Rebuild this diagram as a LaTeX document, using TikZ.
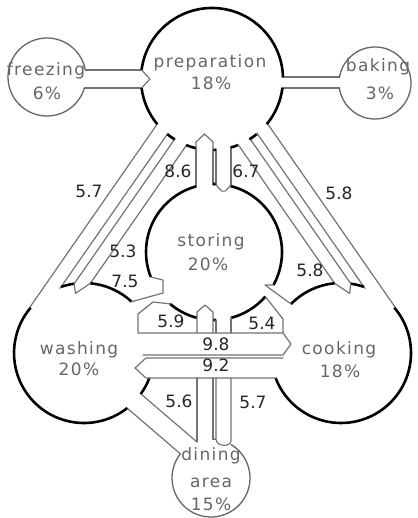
\documentclass[tikz,border=0pt]{standalone}
\usepackage{fontspec}
\setmainfont{DejaVu Sans}
\newfontfamily\namefont[LetterSpace=8]{DejaVu Sans}
\newcommand\myarc[5]{\draw[#1] (#2) ++(#3:#5) arc[start angle=#3, end angle=#4, radius=#5];}
\begin{document}
\begin{tikzpicture}[x=1pt,y=-1pt,
  bandl/.style={draw=black!55,line width=1.2pt,line join=round,line cap=round},
  thickc/.style={draw=black,line width=2.6pt},
  thinc/.style={draw=black!60,line width=1.3pt},
  namelab/.style={font=\namefont\fontsize{17}{20}\selectfont, text=black!60, inner sep=0pt, anchor=base},
  numlab/.style={font=\fontsize{17}{20}\selectfont, text=black!85, inner sep=0pt, anchor=base}]
\useasboundingbox (0,0) rectangle (417,518);
\fill[white] (0,0) rectangle (417,518);
% centres
\coordinate (P) at (212,79);
\coordinate (S) at (214,252);
\coordinate (W) at (84,353);
\coordinate (C) at (341,353);
\coordinate (D) at (211,478);
\coordinate (F) at (47,77);
\coordinate (K) at (375,83);
% ---- step 1: band sides, reaching into the bubbles
\draw[bandl] (80,70) -- (146,70);
\draw[bandl] (80,88) -- (146,88);
\draw[bandl] (278,77) -- (344,77);
\draw[bandl] (278,88) -- (344,88);
\draw[bandl] (196,146) -- (196,192);
\draw[bandl] (213,146) -- (213,190);
\draw[bandl] (216,145) -- (216,188);
\draw[bandl] (231,143) -- (231,189);
\draw[bandl] (159.6,120.6) -- (30,307);
\draw[bandl] (170,130.3) -- (58.6,290.4);
\draw[bandl] (178.5,133.7) -- (74.2,283.7);
\draw[bandl] (190.9,138.8) -- (90.4,283.3);
\draw[bandl] (265.4,120.6) -- (395,307);
\draw[bandl] (255,130.3) -- (366.4,290.4);
\draw[bandl] (246.5,133.7) -- (350.8,283.7);
\draw[bandl] (234.1,138.8) -- (334.6,283.3);
\draw[bandl] (137,390.6) -- (197,442);
\draw[bandl] (123.2,404.7) -- (183,456.1);
% ---- step 2: bubble interiors
\fill[white] (P) circle[radius=69.7];
\fill[white] (S) circle[radius=66.7];
\fill[white] (W) circle[radius=68.7];
\fill[white] (C) circle[radius=68.7];
\fill[white] (D) circle[radius=38.35];
\fill[white] (F) circle[radius=38.35];
\fill[white] (K) circle[radius=35.35];
% ---- step 3: bubble outlines
\myarc{thickc}{P}{7.3}{39.5}{71}
\myarc{thickc}{P}{51.1}{58.2}{71}
\myarc{thickc}{P}{68.8}{74.5}{71}
\myarc{thickc}{P}{86.8}{89.2}{71}
\myarc{thickc}{P}{103}{111.2}{71}
\myarc{thickc}{P}{121.8}{128.9}{71}
\myarc{thickc}{P}{140.5}{172.7}{71}
\myarc{thickc}{P}{187.3}{358.4}{71}
\myarc{thickc}{S}{284.5}{389}{68}
\myarc{thickc}{S}{41}{75.5}{68}
\myarc{thickc}{S}{88.3}{90.8}{68}
\myarc{thickc}{S}{104.5}{130.2}{68}
\myarc{thickc}{S}{158.4}{254.7}{68}
\myarc{thickc}{S}{269.2}{271.7}{68}
\myarc{thickc}{W}{52}{220.4}{70}
\myarc{thickc}{W}{250.9}{262}{70}
\myarc{thickc}{W}{275.2}{312.9}{70}
\myarc{thickc}{W}{20.9}{35.7}{70}
\myarc{thickc}{C}{319.6}{519.1}{70}
\myarc{thickc}{C}{278}{289.1}{70}
\myarc{thickc}{C}{224.4}{264.8}{70}
\myarc{thinc}{D}{300.8}{578.2}{39}
\myarc{thinc}{D}{272.9}{277.4}{39}
\myarc{thinc}{F}{16.4}{349.7}{39}
\myarc{thinc}{K}{189.6}{532}{36}
% ---- step 4: tips and the parts inside the bubbles
\draw[bandl] (141.6,70) -- (150,79) -- (141.6,88);
\draw[bandl] (196,149) -- (196,142) -- (204.5,134) -- (213,142) -- (213,151);
\draw[bandl,rounded corners=2pt] (216,183) -- (216,185.5) -- (223.5,192.5) -- (231,185.5) -- (231,185);
\draw[bandl] (74.2,283.7) -- (75.4,293.4) -- (90.4,283.3);
\draw[bandl] (350.8,283.7) -- (349.6,293.4) -- (334.6,283.3);
\draw[bandl] (150.8,277) -- (163,280) -- (163,293) -- (131.6,301.7);
\draw[bandl] (170.1,303.9) -- (153,302) -- (138,314) -- (138,333) -- (283,333) -- (291,344) -- (283,355) -- (143,355);
\draw[bandl] (273.5,285) -- (265,285) -- (291,304);
\draw[bandl] (265.3,296.6) -- (283,319) -- (283,333);
\draw[bandl] (283,358) -- (146,358) -- (135,368) -- (146,378) -- (276,378);
\draw[bandl] (197,333) -- (197,312) -- (205,305) -- (213,312) -- (213,333);
\draw[bandl] (216,320) -- (216,333);
\draw[bandl] (231,317.8) -- (231,333);
\draw[bandl] (197,378) -- (197,442);
\draw[bandl] (213,378) -- (213,439.5);
\draw[bandl] (216,378) -- (216,439) .. controls (216,447) and (231,447) .. (231,441) -- (231,378);
% ---- labels
\node[namelab] (tprep) at (210,68) {preparation};
\node[namelab] (pprep) at (211,90) {18\%};
\node[namelab] (tfre) at (46,76) {freezing};
\node[namelab] (pfre) at (47,100) {6\%};
\node[namelab] (tbak) at (378,72) {baking};
\node[namelab] (pbak) at (380,100) {3\%};
\node[namelab] (tsto) at (211,246) {storing};
\node[namelab] (psto) at (208,270) {20\%};
\node[namelab] (twas) at (79,354) {washing};
\node[namelab] (pwas) at (79,375) {20\%};
\node[namelab] (tcoo) at (339,354) {cooking};
\node[namelab] (pcoo) at (340,377) {18\%};
\node[namelab] (tdin) at (211,460) {dining};
\node[namelab] (tare) at (211,487) {area};
\node[namelab] (pdin) at (211,510) {15\%};
\node[numlab] (n86) at (178,178) {8.6};
\node[numlab] (n67) at (246,178) {6.7};
\node[numlab] (n57a) at (89,198) {5.7};
\node[numlab] (n58a) at (339,200) {5.8};
\node[numlab] (n53) at (123,257) {5.3};
\node[numlab] (n75) at (125,287) {7.5};
\node[numlab] (n58b) at (310,276) {5.8};
\node[numlab] (n59) at (171,327) {5.9};
\node[numlab] (n54) at (262,329) {5.4};
\node[numlab] (n98) at (216,350) {9.8};
\node[numlab] (n92) at (216,371) {9.2};
\node[numlab] (n56) at (179,407) {5.6};
\node[numlab] (n57b) at (253,408) {5.7};
\end{tikzpicture}
\end{document}
